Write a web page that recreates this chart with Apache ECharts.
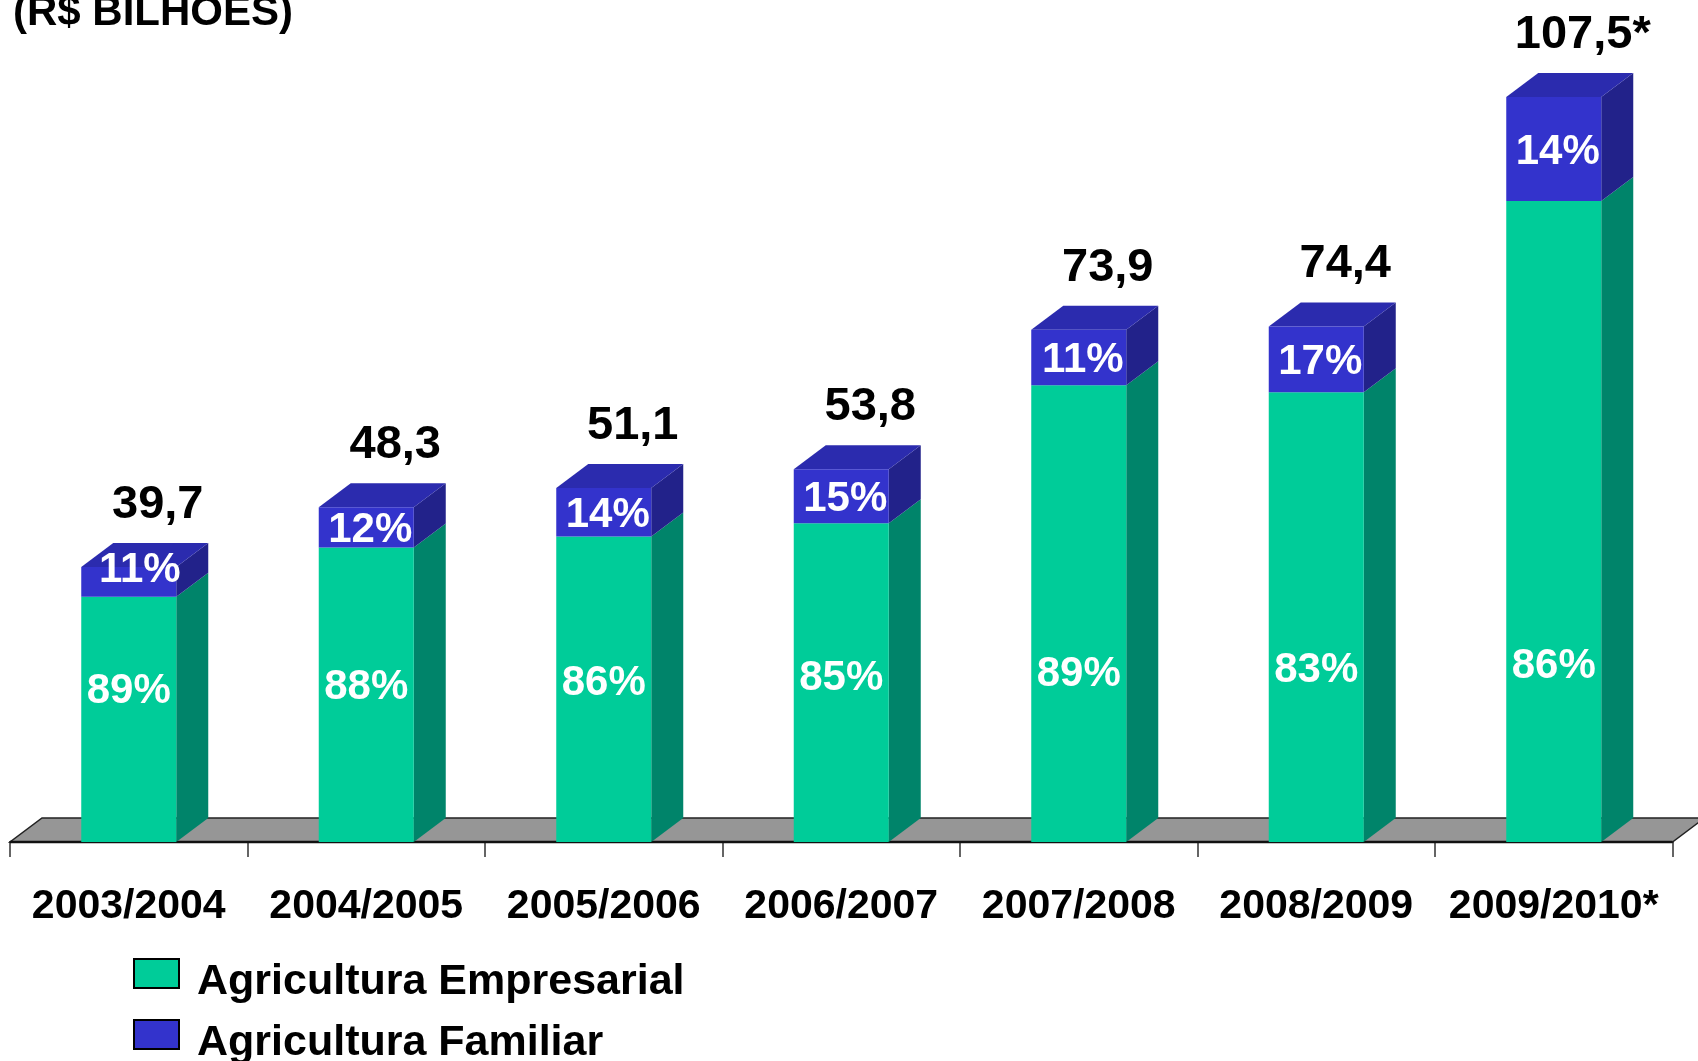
<!DOCTYPE html>
<html>
<head>
<meta charset="utf-8">
<script src="https://cdn.jsdelivr.net/npm/echarts@6/dist/echarts.min.js"></script>
<style>
html,body{margin:0;padding:0;background:#fff;}
#chart{width:1698px;height:1061px;}
</style>
</head>
<body>
<div id="chart"></div>
<script>
// ---- data ----
const categories = ['2003/2004', '2004/2005', '2005/2006', '2006/2007', '2007/2008', '2008/2009', '2009/2010*'];
const totals = [39.7, 48.3, 51.1, 53.8, 73.9, 74.4, 107.5];
const totalLabels = ['39,7', '48,3', '51,1', '53,8', '73,9', '74,4', '107,5*'];
const empresarial = [35.4, 42.5, 44.1, 46.0, 65.9, 64.9, 92.5];
const familiar = [4.3, 5.8, 7.0, 7.8, 8.0, 9.5, 15.0];
const empresarialPct = ['89%', '88%', '86%', '85%', '89%', '83%', '86%'];
const familiarPct = ['11%', '12%', '14%', '15%', '11%', '17%', '14%'];
const seriesNames = ['Agricultura Empresarial', 'Agricultura Familiar'];
const title = '(R$ BILHOES)';

// ---- style ----
const DX = 32, DY = 24;
const FONT = '"Liberation Sans", Arial, sans-serif';
const GREEN = { front: '#00CC99', side: '#00846A', top: '#00B085' };
const BLUE = { front: '#3333CC', side: '#22228A', top: '#2B2BAE' };

function box(api, colors, withTop, pctText, kind, idx) {
  const i = api.value(0), lo = api.value(1), hi = api.value(2);
  const p0 = api.coord([i, lo]);
  const p1 = api.coord([i, hi]);
  const first = api.coord([0, 0]);
  const bw = api.size([1, 0])[0] * 0.4;
  const L = p0[0] - bw / 2, R = p0[0] + bw / 2, yb = p0[1], yt = p1[1];
  const children = [];
  children.push({ type: 'polygon', shape: { points: [[R, yb], [R + DX, yb - DY], [R + DX, yt - DY], [R, yt]] }, style: { fill: colors.side } });
  if (withTop) {
    children.push({ type: 'polygon', shape: { points: [[L, yt], [R, yt], [R + DX, yt - DY], [L + DX, yt - DY]] }, style: { fill: colors.top } });
  }
  children.push({ type: 'rect', shape: { x: L, y: yt, width: bw, height: yb - yt }, style: { fill: colors.front } });
  let lx, ly;
  if (kind === 'emp') {
    lx = p0[0];
    ly = yb - 151 - 0.017 * (p0[0] - first[0]);
  } else {
    const h = yb - yt;
    if (h < 35) { lx = p0[0] + 11; ly = yt + 4; }
    else { lx = p0[0] + 4; ly = (yb + yt) / 2 + 3; }
  }
  children.push({ type: 'text', style: { text: pctText, x: lx, y: ly, align: 'center', verticalAlign: 'middle', fill: '#fff', font: 'bold 42px ' + FONT } });
  if (kind === 'fam') {
    children.push({ type: 'text', style: { text: totalLabels[idx], x: p0[0] + 29, y: yt - DY - 38, align: 'center', verticalAlign: 'middle', fill: '#000', font: 'bold 47px ' + FONT } });
  }
  return { type: 'group', children: children };
}

const legendBase = {
  orient: 'vertical',
  left: 133,
  padding: 0,
  itemWidth: 45,
  itemHeight: 29,
  icon: 'rect',
  itemStyle: { borderColor: '#000', borderWidth: 2 },
  formatter: '{t|{name}}',
  textStyle: {
    fontFamily: FONT, fontSize: 43, fontWeight: 'bold', color: '#000', padding: [0, 0, 0, 13],
    rich: { t: { fontFamily: FONT, fontSize: 43, fontWeight: 'bold', color: '#000', lineHeight: 29, padding: [18, 0, 0, 0] } }
  },
  selectedMode: false
};

const chart = echarts.init(document.getElementById('chart'), null, { renderer: 'canvas' });
const option = {
  animation: false,
  backgroundColor: '#fff',
  textStyle: { fontFamily: FONT },
  grid: { left: 10, right: 25.5, top: 10.4, bottom: 219 },
  graphic: [
    { type: 'text', left: 13, top: -8, style: { text: title, font: 'bold 42px ' + FONT, fill: '#000' } }
  ],
  legend: [
    Object.assign({}, legendBase, { data: [seriesNames[0]], top: 943 }),
    Object.assign({}, legendBase, { data: [seriesNames[1]], top: 1004 })
  ],
  xAxis: {
    type: 'category',
    data: categories,
    axisLine: { show: true, lineStyle: { color: '#222', width: 2 } },
    axisTick: { show: true, interval: 0, length: 15, lineStyle: { color: '#333', width: 1.5 } },
    axisLabel: { interval: 0, fontSize: 41, fontWeight: 'bold', color: '#000', margin: 44, fontFamily: FONT }
  },
  yAxis: { type: 'value', min: 0, max: 120, show: false, splitLine: { show: false } },
  series: [
    {
      type: 'custom',
      name: 'floor',
      silent: true,
      z: 1,
      data: [[0]],
      renderItem: function (params, api) {
        const n = categories.length;
        const bw = api.size([1, 0])[0];
        const a = api.coord([0, 0]);
        const b = api.coord([n - 1, 0]);
        const left = a[0] - bw / 2, right = b[0] + bw / 2, y = a[1];
        return {
          type: 'group',
          children: [
            { type: 'polygon', shape: { points: [[left, y], [right, y], [right + DX, y - DY], [left + DX, y - DY]] }, style: { fill: '#969696', stroke: '#222', lineWidth: 1.5 } },
            { type: 'line', shape: { x1: left, y1: y, x2: right, y2: y }, style: { stroke: '#111', lineWidth: 2.5 } }
          ]
        };
      }
    },
    {
      type: 'custom',
      name: seriesNames[0],
      z: 3,
      itemStyle: { color: GREEN.front },
      encode: { x: 0, y: [1, 2] },
      data: categories.map((c, i) => [i, 0, empresarial[i]]),
      renderItem: function (params, api) {
        return box(api, GREEN, false, empresarialPct[params.dataIndex], 'emp', params.dataIndex);
      }
    },
    {
      type: 'custom',
      name: seriesNames[1],
      z: 4,
      itemStyle: { color: BLUE.front },
      encode: { x: 0, y: [1, 2] },
      data: categories.map((c, i) => [i, empresarial[i], empresarial[i] + familiar[i]]),
      renderItem: function (params, api) {
        return box(api, BLUE, true, familiarPct[params.dataIndex], 'fam', params.dataIndex);
      }
    }
  ]
};
chart.setOption(option);
</script>
</body>
</html>
